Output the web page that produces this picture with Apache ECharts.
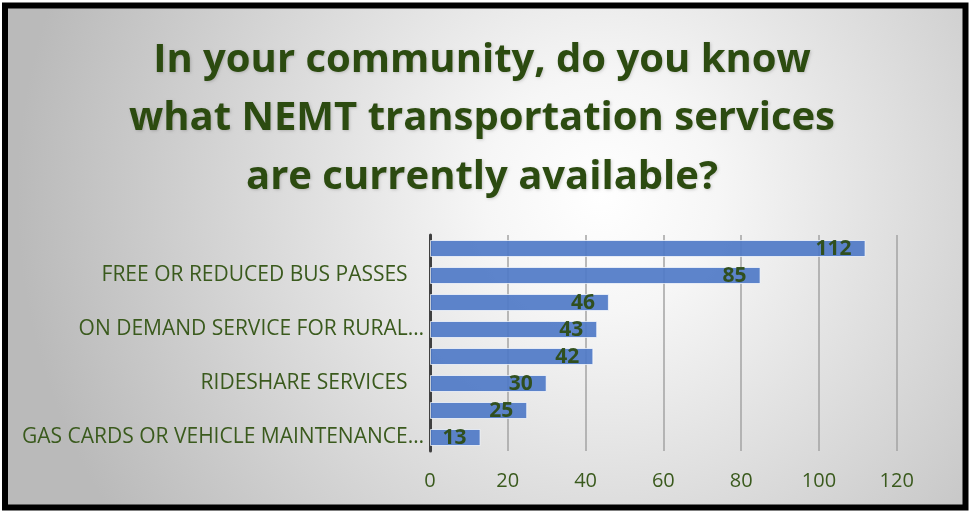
<!DOCTYPE html>
<html>
<head>
<meta charset="utf-8">
<script src="https://cdn.jsdelivr.net/npm/echarts@6/dist/echarts.min.js"></script>
<style>
  html, body { margin: 0; padding: 0; background: #ffffff; }
  #chart { width: 970px; height: 514px; }
</style>
</head>
<body>
<div id="chart"></div>
<script>
// Survey answers, top to bottom; only every other row carries a visible label
const categories = [
  '',
  'FREE OR REDUCED BUS PASSES   ',
  '',
  'ON DEMAND SERVICE FOR RURAL…',
  '',
  'RIDESHARE SERVICES   ',
  '',
  'GAS CARDS OR VEHICLE MAINTENANCE…'
];
const responses = [112, 85, 46, 43, 42, 30, 25, 13];
const xTicks = { min: 0, max: 120, interval: 20 };
const titleText = 'In your community, do you know\nwhat NEMT transportation services\nare currently available?';

const green = '#2c4b10';
const labelGreen = '#3a5a1d';

const chart = echarts.init(document.getElementById('chart'), null, { renderer: 'canvas' });

chart.setOption({
  backgroundColor: '#ffffff',
  animation: false,
  graphic: [{
    type: 'rect',
    z: -10,
    silent: true,
    shape: { x: 5, y: 5.5, width: 960.5, height: 502 },
    style: {
      fill: new echarts.graphic.RadialGradient(0.62, 0.38, 1.15, [
        { offset: 0, color: '#ffffff' },
        { offset: 0.2, color: '#f6f6f6' },
        { offset: 1, color: '#bababa' }
      ]),
      stroke: '#000000',
      lineWidth: 6
    }
  }],
  title: {
    text: titleText,
    left: 477,
    top: 26,
    textAlign: 'center',
    textStyle: {
      fontFamily: 'Open Sans',
      fontWeight: 'bold',
      fontSize: 40,
      lineHeight: 58.5,
      color: green,
      textShadowColor: 'rgba(0,0,0,0.18)',
      textShadowBlur: 3,
      textShadowOffsetX: 1,
      textShadowOffsetY: 1
    }
  },
  grid: {
    left: 430,
    right: 73.3,
    top: 235,
    bottom: 63,
    containLabel: false
  },
  xAxis: {
    type: 'value',
    min: xTicks.min,
    max: xTicks.max,
    interval: xTicks.interval,
    axisLine: { show: false },
    axisTick: { show: false },
    splitLine: { show: true, lineStyle: { color: '#a3a3a3', width: 1.5 } },
    axisLabel: {
      margin: 20,
      fontFamily: 'Open Sans',
      fontSize: 20,
      color: labelGreen
    }
  },
  yAxis: {
    type: 'category',
    inverse: true,
    data: categories,
    axisLine: { show: true, lineStyle: { color: '#404040', width: 3 } },
    axisTick: { show: false },
    axisLabel: {
      interval: 0,
      margin: 6,
      fontFamily: 'Open Sans',
      fontSize: 21,
      color: labelGreen
    }
  },
  series: [{
    type: 'bar',
    data: responses,
    barWidth: 17,
    itemStyle: {
      color: '#4f7ac7',
      opacity: 0.92,
      borderColor: 'rgba(255,255,255,0.75)',
      borderWidth: 1
    },
    label: {
      show: true,
      position: 'insideRight',
      distance: 14,
      offset: [0, 1],
      fontFamily: 'Open Sans',
      fontWeight: 'bold',
      fontSize: 21,
      color: green
    },
    z: 3
  }]
});
</script>
</body>
</html>
